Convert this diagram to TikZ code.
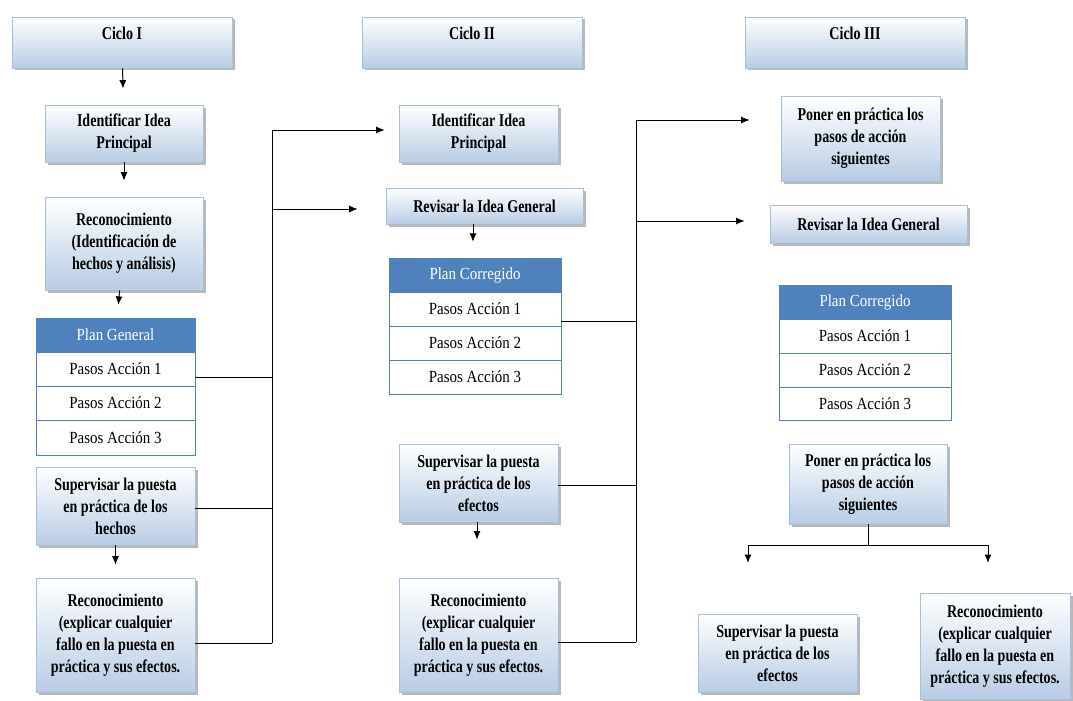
\documentclass[tikz,border=0pt]{standalone}
\usepackage{fontspec}
\setmainfont{Liberation Serif}
\newfontfamily\boxfont{Liberation Serif}[FakeStretch=0.78]
\newfontfamily\tabfont{Liberation Serif}[FakeStretch=0.88]
\usetikzlibrary{shadows,arrows.meta}
\definecolor{boxline}{HTML}{A7BFDE}
\definecolor{boxbot}{HTML}{B8CCE4}
\definecolor{hdr}{HTML}{4F81BD}
\tikzset{
  box/.style={draw=boxline, line width=0.8pt, top color=white, bottom color=boxbot,
    drop shadow={shadow xshift=2.5pt, shadow yshift=-2.5pt, fill=black!50, opacity=0.55},
    align=center, inner sep=1pt, font=\boxfont\bfseries\fontsize{18}{22}\selectfont},
  hd/.style={draw=hdr, fill=hdr, text=white, inner sep=0pt, font=\tabfont\fontsize{17}{19}\selectfont},
  rowc/.style={draw=hdr, fill=white, inner sep=0pt, font=\tabfont\fontsize{17}{19}\selectfont},
  link/.style={line width=1pt, black},
  arr/.style={link, -{Latex[length=8.5pt,width=7pt]}},
  sz/.style 2 args={minimum width=#1pt, minimum height=#2pt},
}
\newcommand{\uptext}[1]{\smash{\raisebox{3pt}{#1}}}
\begin{document}
\begin{tikzpicture}[x=1pt,y=1pt]
\useasboundingbox (0,0) rectangle (1073,-701);

% ---------- Ciclo I ----------
\node[box, sz={220}{51}] (c1) at (122,-42.5) {\uptext{Ciclo I}};
\node[box, sz={158}{57}] (id1) at (124,-133.5) {Identificar Idea\\Principal};
\node[box, sz={158}{93}] (rc1) at (124,-243.5) {Reconocimiento\\(Identificación de\\hechos y análisis)};
\node[hd, sz={159}{34}] (pg) at (115.5,-335) {Plan General};
\node[rowc, sz={159}{34}] (pg1) at (115.5,-369) {Pasos Acción 1};
\node[rowc, sz={159}{34}] (pg2) at (115.5,-403) {Pasos Acción 2};
\node[rowc, sz={159}{35}] (pg3) at (115.5,-437.5) {Pasos Acción 3};
\node[box, sz={159}{78}] (sp1) at (115.5,-506) {Supervisar la puesta\\en práctica de los\\hechos};
\node[box, sz={159}{114}] (rf1) at (115.5,-635) {Reconocimiento\\(explicar cualquier\\fallo en la puesta en\\práctica y sus efectos.};

\draw[arr, shorten >=16pt] (c1) -- (id1);
\draw[arr, shorten >=16pt] (id1) -- (rc1);
\draw[arr, shorten >=13pt] (rc1) -- (pg);
\draw[arr, shorten >=13pt] (sp1) -- (rf1);

% ---------- Ciclo II ----------
\node[box, sz={220}{51}] (c2) at (472,-42.5) {\uptext{Ciclo II}};
\node[box, sz={159}{57}] (id2) at (478.5,-133.5) {Identificar Idea\\Principal};
\node[box, sz={197}{36}] (rv2) at (484.5,-206) {Revisar la Idea General};
\node[hd, sz={172}{34}] (pc) at (475,-275) {Plan Corregido};
\node[rowc, sz={172}{34}] (pc1) at (475,-309) {Pasos Acción 1};
\node[rowc, sz={172}{34}] (pc2) at (475,-343) {Pasos Acción 2};
\node[rowc, sz={172}{34}] (pc3) at (475,-377) {Pasos Acción 3};
\node[box, sz={159}{78}] (sp2) at (478.5,-483) {Supervisar la puesta\\en práctica de los\\efectos};
\node[box, sz={159}{114}] (rf2) at (478.5,-635) {Reconocimiento\\(explicar cualquier\\fallo en la puesta en\\práctica y sus efectos.};

\draw[arr, shorten >=16pt] (rv2.south -| 473,0) -- (pc.north -| 473,0);
\draw[arr, shorten >=38pt] (sp2.south -| 477,0) -- (rf2.north -| 477,0);

% ---------- Ciclo III ----------
\node[box, sz={220}{51}] (c3) at (855,-42.5) {\uptext{Ciclo III}};
\node[box, sz={159}{85}] (pn3) at (860.5,-138.5) {Poner en práctica los\\pasos de acción\\siguientes};
\node[box, sz={197}{38}] (rv3) at (868.5,-224) {Revisar la Idea General};
\node[hd, sz={172}{34}] (pd) at (865,-302) {Plan Corregido};
\node[rowc, sz={172}{34}] (pd1) at (865,-336) {Pasos Acción 1};
\node[rowc, sz={172}{34}] (pd2) at (865,-370) {Pasos Acción 2};
\node[rowc, sz={172}{33}] (pd3) at (865,-403.5) {Pasos Acción 3};
\node[box, sz={158}{80}] (pm3) at (868,-484) {Poner en práctica los\\pasos de acción\\siguientes};
\node[box, sz={159}{78}] (sp3) at (777.5,-653) {Supervisar la puesta\\en práctica de los\\efectos};
\node[box, sz={150}{106}] (rf3) at (995,-646) {Reconocimiento\\(explicar cualquier\\fallo en la puesta en\\práctica y sus efectos.};

% ---------- links from Ciclo I to Ciclo II ----------
\coordinate (t1) at (272,0);
\draw[link] ([yshift=-8pt]pg1.east) -- ([yshift=-8pt]pg1.east -| t1);
\draw[link] ([yshift=-2pt]sp1.east) -- ([yshift=-2pt]sp1.east -| t1);
\draw[link] ([yshift=-8pt]rf1.east) -- ([yshift=-8pt]rf1.east -| t1) coordinate (t1b);
\draw[link] (t1b) -- ([yshift=3.5pt]id2.west -| t1) coordinate (t1a);
\draw[arr, shorten >=14pt] (t1a) -- ([yshift=3.5pt]id2.west);
\draw[arr, shorten >=28pt] ([yshift=-3pt]rv2.west -| t1) -- ([yshift=-3pt]rv2.west);

% ---------- links from Ciclo II to Ciclo III ----------
\coordinate (t2) at (636,0);
\draw[link] ([yshift=-12pt]pc1.east) -- ([yshift=-12pt]pc1.east -| t2);
\draw[link] ([yshift=-2pt]sp2.east) -- ([yshift=-2pt]sp2.east -| t2);
\draw[link] ([yshift=-7pt]rf2.east) -- ([yshift=-7pt]rf2.east -| t2) coordinate (t2b);
\draw[link] (t2b) -- ([yshift=18.5pt]pn3.west -| t2) coordinate (t2a);
\draw[arr, shorten >=31pt] (t2a) -- ([yshift=18.5pt]pn3.west);
\draw[arr, shorten >=25pt] ([yshift=3pt]rv3.west -| t2) -- ([yshift=3pt]rv3.west);

% ---------- split below the last step ----------
\coordinate (sl) at (748,-545);
\coordinate (sr) at (988,-545);
\draw[link] (pm3.south) -- (pm3.south |- sl);
\draw[link] (sl) -- (sr);
\draw[arr] (sl) -- ++(0,-18);
\draw[arr] (sr) -- ++(0,-18);
\end{tikzpicture}
\end{document}
